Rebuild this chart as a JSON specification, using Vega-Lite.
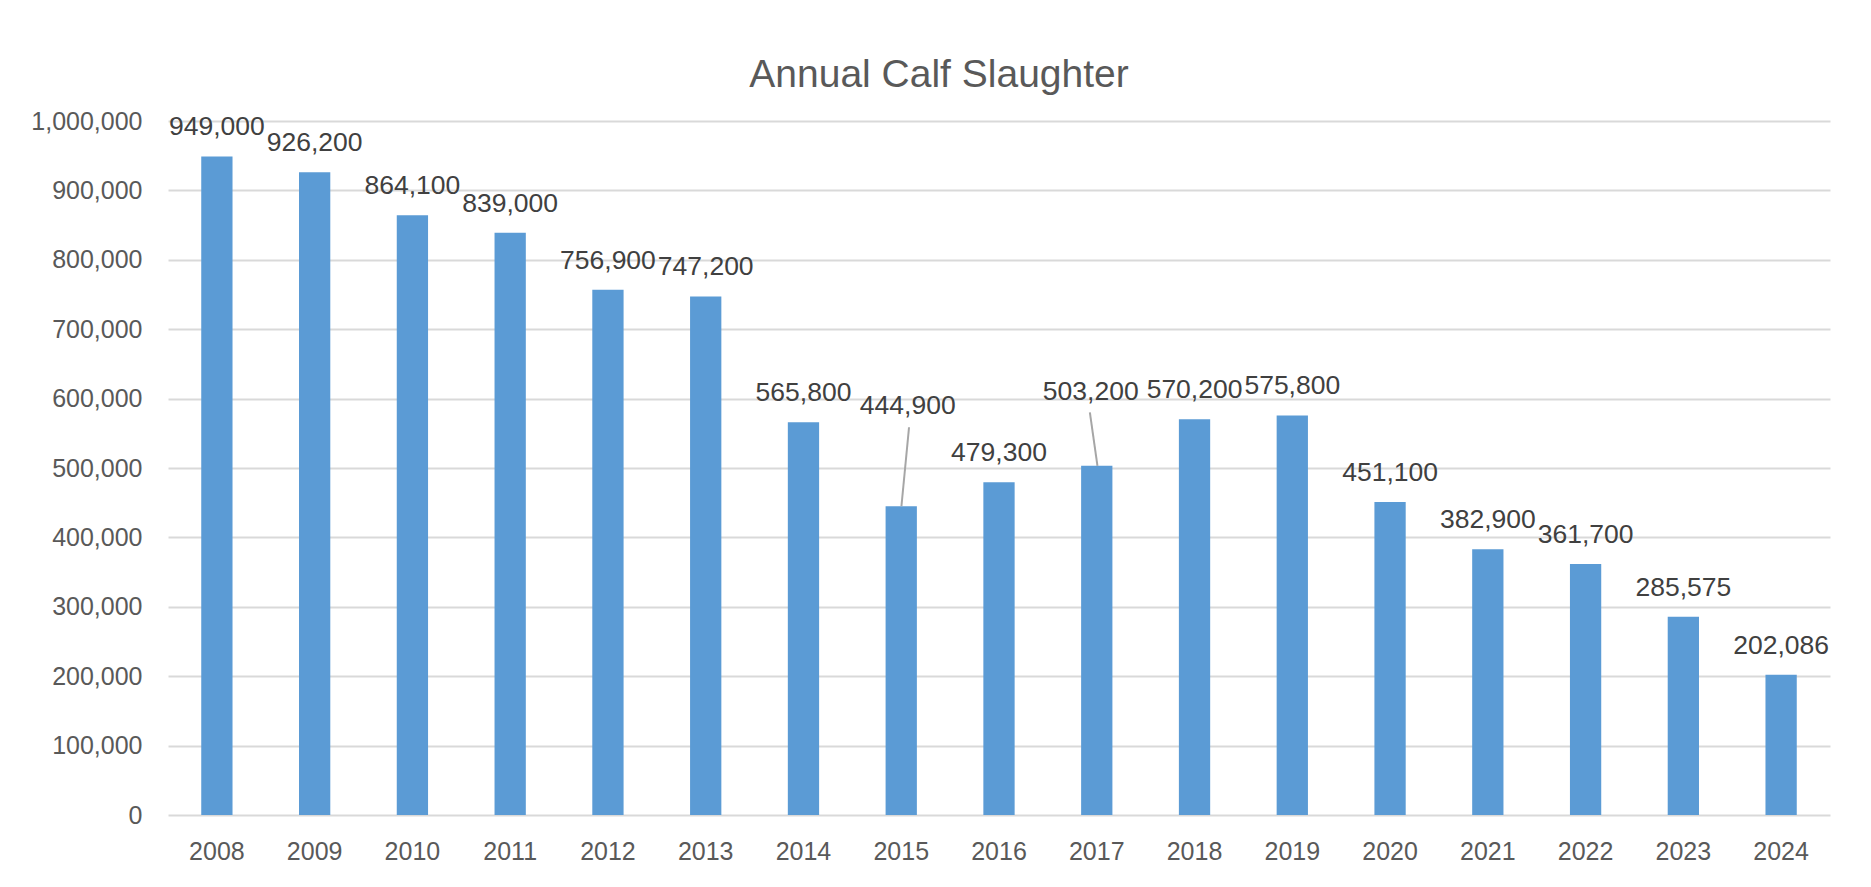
{
  "$schema": "https://vega.github.io/schema/vega-lite/v6.json",
  "width": 1662,
  "height": 694,
  "autosize": {"type": "none"},
  "padding": {"left": 168, "top": 121, "right": 41, "bottom": 72},
  "background": "#ffffff",
  "title": {
    "text": "Annual Calf Slaughter",
    "anchor": "middle",
    "frame": "group",
    "dx": -60,
    "dy": 53,
    "offset": 36,
    "baseline": "alphabetic",
    "fontSize": 39,
    "font": "Liberation Sans",
    "fontWeight": "normal",
    "color": "#595959"
  },
  "data": {
    "values": [
      {"year": "2008", "calves": 949000},
      {"year": "2009", "calves": 926200},
      {"year": "2010", "calves": 864100},
      {"year": "2011", "calves": 839000},
      {"year": "2012", "calves": 756900},
      {"year": "2013", "calves": 747200},
      {"year": "2014", "calves": 565800},
      {"year": "2015", "calves": 444900},
      {"year": "2016", "calves": 479300},
      {"year": "2017", "calves": 503200},
      {"year": "2018", "calves": 570200},
      {"year": "2019", "calves": 575800},
      {"year": "2020", "calves": 451100},
      {"year": "2021", "calves": 382900},
      {"year": "2022", "calves": 361700},
      {"year": "2023", "calves": 285575},
      {"year": "2024", "calves": 202086}
    ]
  },
  "encoding": {
    "x": {
      "field": "year",
      "type": "ordinal",
      "scale": {"paddingInner": 0.68, "paddingOuter": 0.34},
      "axis": {
        "title": null,
        "labelAngle": 0,
        "domain": false,
        "ticks": false,
        "grid": false,
        "labelPadding": 24,
        "labelFontSize": 25,
        "labelFont": "Liberation Sans",
        "labelColor": "#595959"
      }
    },
    "y": {
      "field": "calves",
      "type": "quantitative",
      "scale": {"domain": [0, 1000000], "nice": false},
      "axis": {
        "title": null,
        "values": [0, 100000, 200000, 300000, 400000, 500000, 600000, 700000, 800000, 900000, 1000000],
        "format": ",d",
        "domain": false,
        "ticks": false,
        "labelPadding": 26,
        "labelFontSize": 25,
        "labelFont": "Liberation Sans",
        "labelColor": "#595959",
        "grid": true,
        "gridColor": "#D9D9D9",
        "gridWidth": 2
      }
    }
  },
  "layer": [
    {"mark": {"type": "bar", "color": "#5B9BD5"}},
    {
      "transform": [{"filter": "datum.year != '2015' && datum.year != '2017'"}],
      "mark": {"type": "text", "baseline": "alphabetic", "align": "center", "dy": -21, "fontSize": 26.5, "font": "Liberation Sans", "color": "#404040"},
      "encoding": {"text": {"field": "calves", "format": ",d"}}
    },
    {
      "transform": [{"filter": "datum.year == '2015'"}],
      "mark": {"type": "text", "baseline": "alphabetic", "align": "center", "dx": 6.5, "dy": -92, "fontSize": 26.5, "font": "Liberation Sans", "color": "#404040"},
      "encoding": {"text": {"field": "calves", "format": ",d"}}
    },
    {
      "transform": [{"filter": "datum.year == '2017'"}],
      "mark": {"type": "text", "baseline": "alphabetic", "align": "center", "dx": -6, "dy": -66, "fontSize": 26.5, "font": "Liberation Sans", "color": "#404040"},
      "encoding": {"text": {"field": "calves", "format": ",d"}}
    },
    {
      "transform": [{"filter": "datum.year == '2015'"}],
      "mark": {"type": "rule", "color": "#A6A6A6", "strokeWidth": 2, "xOffset": 0.2, "x2Offset": 7.8, "y2Offset": -79},
      "encoding": {
        "x": {"field": "year", "type": "ordinal", "bandPosition": 0.5},
        "x2": {"field": "year", "bandPosition": 0.5},
        "y2": {"field": "calves"}
      }
    },
    {
      "transform": [{"filter": "datum.year == '2017'"}],
      "mark": {"type": "rule", "color": "#A6A6A6", "strokeWidth": 2, "xOffset": 0.7, "x2Offset": -6.9, "y2Offset": -53.4},
      "encoding": {
        "x": {"field": "year", "type": "ordinal", "bandPosition": 0.5},
        "x2": {"field": "year", "bandPosition": 0.5},
        "y2": {"field": "calves"}
      }
    }
  ],
  "config": {"view": {"stroke": null}}
}
